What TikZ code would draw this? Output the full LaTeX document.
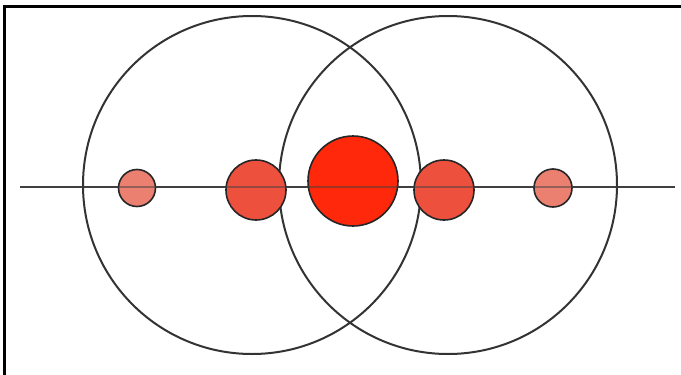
\documentclass[tikz,border=0pt]{standalone}
\begin{document}
\begin{tikzpicture}[x=1pt,y=-1pt,
  ring/.style={draw=black!80,line width=2pt},
  dot/.style={circle,draw=black!85,line width=1.6pt,inner sep=0pt},
  axis/.style={draw=black!75,line width=1.5pt}]
\useasboundingbox (0,0) rectangle (681,375);
\fill[white] (0,0) rectangle (681,375);
\draw[line width=2.2pt] (4.5,375) -- (4.5,6.5) -- (681,6.5);
\coordinate (la) at (20,187);
\coordinate (ra) at (675,187);
\draw[axis] (la) -- (ra);
\node[ring,circle,minimum size=338pt,inner sep=0pt] (c1) at (252,185) {};
\node[ring,circle,minimum size=338pt,inner sep=0pt] (c2) at (448,185) {};
\node[dot,fill={rgb,255:red,236;green,128;blue,112},minimum size=37pt] (d1) at (137,188) {};
\node[dot,fill={rgb,255:red,238;green,80;blue,62},minimum size=60pt] (d2) at (256,190) {};
\node[dot,fill={rgb,255:red,255;green,40;blue,10},minimum size=90pt] (d3) at (353,181) {};
\node[dot,fill={rgb,255:red,238;green,80;blue,62},minimum size=60pt] (d4) at (444,190) {};
\node[dot,fill={rgb,255:red,236;green,128;blue,112},minimum size=38pt] (d5) at (553,188) {};
\draw[draw=black!75,line width=1.5pt,opacity=0.5] (la) -- (ra);
\end{tikzpicture}
\end{document}
